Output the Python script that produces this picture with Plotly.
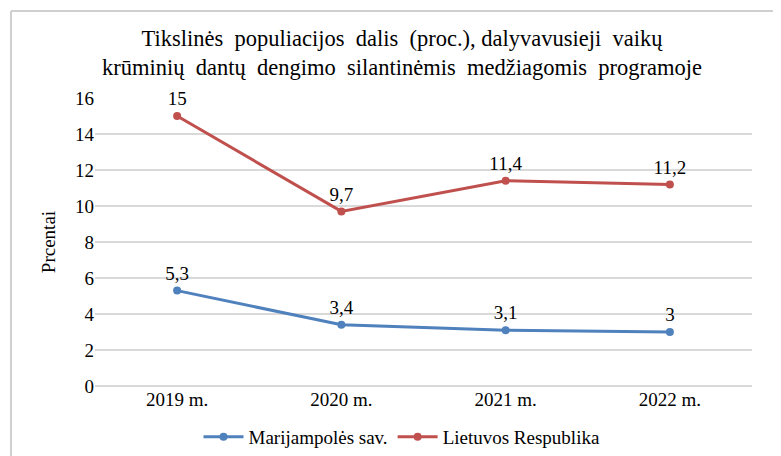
import plotly.graph_objects as go

years = ["2019 m.", "2020 m.", "2021 m.", "2022 m."]
marijampole = [5.3, 3.4, 3.1, 3]
lietuva = [15, 9.7, 11.4, 11.2]
y_ticks = [0, 2, 4, 6, 8, 10, 12, 14, 16]

FONT = "Liberation Serif"


def lt(v):
    return f"{v:g}".replace(".", ",")


def f(size):
    return dict(family=FONT, size=size, color="#000000")


fig = go.Figure()
for name, vals, color in [
    ("Marijampolės sav.", marijampole, "#4F81BD"),
    ("Lietuvos Respublika", lietuva, "#C0504D"),
]:
    fig.add_trace(go.Scatter(
        x=years, y=vals, name=name, mode="lines+markers+text",
        line=dict(color=color, width=3),
        marker=dict(size=8, color=color),
        text=[lt(v) for v in vals], textposition="top center",
        textfont=f(19), cliponaxis=False,
    ))

# the page body adds an 8px margin, so the figure is 8px smaller than the window
W, H = 773, 448
L, R, T, B = 87, 29, 90, 70
pw, ph = W - L - R, H - T - B
# light grey chart frame: left and top edges (the others fall outside the picture)
fx0 = (3 - L) / pw
fy1 = (H - B - 3) / ph
fig.add_shape(type="line", xref="paper", yref="paper",
              x0=fx0, x1=fx0, y0=-B / ph, y1=fy1,
              line=dict(color="#D0D0D0", width=2))
fig.add_shape(type="line", xref="paper", yref="paper",
              x0=fx0, x1=(W - L) / pw, y0=fy1, y1=fy1,
              line=dict(color="#D0D0D0", width=2))

fig.update_layout(
    width=W, height=H,
    margin=dict(l=L, r=R, t=T, b=B),
    paper_bgcolor="white", plot_bgcolor="white",
    font=f(19),
    title=dict(
        text="Tikslinės  populiacijos  dalis  (proc.), dalyvavusieji  vaikų<br>krūminių  dantų  dengimo  silantinėmis  medžiagomis  programoje",
        x=(402 - 8) / W, xanchor="center", yref="container", y=1 - 38 / H, yanchor="top",
        font=f(22.5),
    ),
    xaxis=dict(showgrid=False, showline=False, ticks="", tickfont=f(19),
               range=[-0.5, 3.5], automargin=False),
    yaxis=dict(
        range=[0, 16], tickvals=y_ticks, showgrid=True, gridcolor="#D9D9D9",
        gridwidth=1.5, zeroline=True, zerolinecolor="#D9D9D9", zerolinewidth=1.5,
        tickfont=f(19), ticks="", ticklen=0, automargin=False,
        title=dict(text="Prcentai", font=f(19), standoff=14),
    ),
    legend=dict(orientation="h", x=(402 - 8 - L) / pw, xanchor="center",
                yref="container", y=(H - 429) / H, yanchor="middle",
                font=f(19), itemwidth=40),
    showlegend=True,
)

fig.write_html("out.html")
